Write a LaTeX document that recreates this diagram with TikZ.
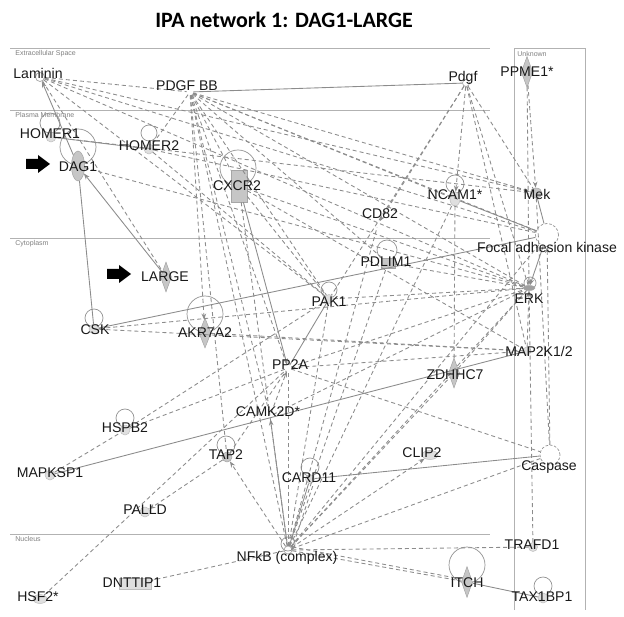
\documentclass[tikz,border=0pt]{standalone}
\usepackage{fontspec}
\setmainfont{Liberation Sans}
\newfontfamily\titulofont{Carlito}
\usetikzlibrary{shapes.geometric, arrows.meta}

\begin{document}
\begin{tikzpicture}[x=0.02cm, y=-0.02cm,
	gene/.style={font=\fontsize{8}{9}\selectfont, text=black!90, inner sep=0pt},
	comp/.style={font=\fontsize{4}{5}\selectfont, text=gray, anchor=west, inner sep=0pt},
	linha/.style={draw=gray!60, line width=0.5pt},
	forma/.style={fill=gray!45, draw=gray!70, line width=0.3pt, inner sep=0pt},
	clara/.style={forma, fill=gray!25, draw=gray!50},
	oculto/.style={circle, inner sep=0pt, minimum size=1.2mm},
	grupo/.style={circle, draw=gray!85, dash pattern=on 1.5pt off 1pt, inner sep=0pt},
	laco/.style={draw=gray!85, line width=0.4pt},
	lig/.style={draw=gray!90, line width=0.5pt},
	trac/.style={lig, dash pattern=on 2.3pt off 1.7pt},
	seta/.style={-{Stealth[length=3.5pt, width=2.6pt]}}]

\useasboundingbox (0,0) rectangle (624,617);

\node[font=\titulofont\bfseries\fontsize{12.5}{14}\selectfont] (titulo) at (284,20) {IPA network 1: DAG1-LARGE};

% Compartimentos
	\foreach \y in {48, 110, 238, 534}
		\draw[linha] (10,\y) -- (490,\y);
	\draw[linha] (514,610) -- (514,48) -- (585,48) -- (585,610);

	\node[comp] (extra) at (15,54) {Extracellular Space};
	\node[comp] (plasma) at (15,115) {Plasma Membrane};
	\node[comp] (cito) at (15,244) {Cytoplasm};
	\node[comp] (nucleo) at (15,539) {Nucleus};
	\node[comp] (desconh) at (517,54) {Unknown};

% Lacos
	\foreach \x/\y/\r in {50/123/10, 78/147/18, 149/133/8, 238/168/18, 455/184/9, 387/250/10, 94/318/9, 205/314/18,
			329/290/8, 125/418/9, 226/445/9, 310/467/9, 467/565/18, 543/586/9, 288/544/7, 530/283/6}
		\draw[laco] (\x,\y) circle (\r);

% Formas
\node[oculto, draw=gray!70, minimum size=1.8mm] (laminin) at (40,77) {};
\node[oculto] (pdgfbb) at (190,92) {};
\node[oculto, draw=gray!70, minimum size=1.4mm] (pdgf) at (466,83) {};
\node[forma, diamond, minimum width=2.3mm, minimum height=6.2mm] (ppme1) at (527,72) {};
\node[clara, circle, minimum size=2mm] (homer1) at (51,137) {};
\node[forma, ellipse, minimum width=2.6mm, minimum height=6mm] (dag1) at (78,166) {};
\node[clara, circle, minimum size=2mm] (homer2) at (149,149) {};
\node[forma, rectangle, minimum width=3.2mm, minimum height=6.4mm] (cxcr2) at (239,186) {};
\node[oculto] (cd82) at (378,224) {};
\node[clara, ellipse, minimum width=2mm, minimum height=2.8mm] (ncam1) at (455,199) {};
\node[forma, ellipse, minimum width=2.4mm, minimum height=2mm] (mek) at (536,193) {};
\node[grupo, minimum size=4.6mm] (fak) at (547,235) {};
\node[forma, rectangle, minimum width=2.8mm, minimum height=2mm] (pdlim1) at (388,263) {};
\node[forma, diamond, minimum width=2.2mm, minimum height=6mm] (large) at (166,277) {};
\node[clara, circle, minimum size=2mm] (csk) at (94,329) {};
\node[forma, diamond, minimum width=2.4mm, minimum height=6mm] (akr7a2) at (205,333) {};
\node[clara, circle, minimum size=1.8mm] (pak1) at (329,299) {};
\node[forma, ellipse, fill=gray!75, minimum width=2.4mm, minimum height=1mm] (erk) at (529,288) {};
\node[clara, circle, minimum size=1.6mm] (map2k) at (527,351) {};
\node[oculto] (pp2a) at (288,368) {};
\node[forma, diamond, minimum width=2.2mm, minimum height=6mm] (zdhhc7) at (454,373) {};
\node[oculto] (camk2d) at (270,416) {};
\node[clara, circle, minimum size=2mm] (hspb2) at (125,430) {};
\node[clara, circle, minimum size=2mm] (mapksp1) at (50,475) {};
\node[forma, circle, minimum size=2mm] (tap2) at (227,457) {};
\node[clara, circle, minimum size=1.8mm] (card11) at (310,479) {};
\node[clara, ellipse, minimum width=3.2mm, minimum height=1.8mm] (clip2) at (430,455) {};
\node[grupo, minimum size=4mm] (caspase) at (550,455) {};
\node[clara, circle, minimum size=2mm] (palld) at (145,512) {};
\node[oculto, draw=gray!70, minimum size=1.6mm] (nfkb) at (288,550) {};
\node[clara, circle, minimum size=1.8mm] (trafd1) at (533,547) {};
\node[clara, rectangle, minimum width=6.4mm, minimum height=2.2mm] (dnttip1) at (135,584) {};
\node[clara, ellipse, minimum width=2.8mm, minimum height=1.8mm] (hsf2) at (40,599) {};
\node[forma, diamond, minimum width=2.2mm, minimum height=6.2mm] (itch) at (467,582) {};
\node[clara, circle, minimum size=2mm] (tax1bp1) at (543,598) {};

% Ligacoes diretas
	\foreach \a/\b in {pdgfbb/pdgf, dag1/csk, homer1/homer2, csk/fak, pak1/pp2a, mapksp1/map2k,
			card11/caspase, itch/tax1bp1, nfkb/card11, ncam1/fak, mek/fak}
		\draw[lig] (\a) -- (\b);
	\foreach \a/\b in {dag1/laminin, large/dag1, cxcr2/pp2a, nfkb/camk2d, fak/erk}
		\draw[lig, seta] (\a) -- (\b);

% Ligacoes indiretas
	\foreach \a/\b in {laminin/pdgfbb, laminin/fak, laminin/erk, laminin/pak1, laminin/large,
			pdgfbb/homer2, pdgfbb/cxcr2, pdgfbb/pp2a, pdgfbb/camk2d, pdgfbb/nfkb, pdgfbb/pak1,
			pdgfbb/pdlim1, pdgfbb/ncam1, pdgfbb/mek, pdgfbb/fak, pdgfbb/erk, pdgfbb/tap2,
			pdgf/pak1, pdgf/mek, pdgf/erk, pdgf/map2k, homer1/mek, homer2/fak, homer2/pak1,
			dag1/erk, cxcr2/pak1, cxcr2/erk, cxcr2/map2k, cxcr2/nfkb, csk/erk, csk/map2k,
			akr7a2/map2k, pak1/erk, pdlim1/erk, pp2a/erk, pp2a/map2k, pp2a/caspase, camk2d/erk,
			zdhhc7/erk, ncam1/zdhhc7, hspb2/pak1, hspb2/pp2a, mapksp1/hspb2, hsf2/pp2a, tap2/pp2a,
			mek/caspase, nfkb/dnttip1, nfkb/trafd1, nfkb/itch, nfkb/caspase, nfkb/zdhhc7,
			nfkb/pak1, nfkb/cd82, nfkb/pdlim1, nfkb/ncam1, nfkb/fak, nfkb/erk, nfkb/pp2a}
		\draw[trac] (\a) -- (\b);
	\foreach \a/\b in {laminin/mek, pdgfbb/akr7a2, pdgf/ncam1, pdgf/cd82, ppme1/mek, ppme1/erk,
			caspase/fak, map2k/erk, trafd1/erk, nfkb/tap2, nfkb/clip2, camk2d/pp2a, tap2/palld}
		\draw[trac, seta] (\a) -- (\b);

	\draw[trac] ([xshift=0.7mm]nfkb.center) -- ([xshift=0.7mm]card11.south);
	\draw[trac] ([yshift=0.6mm]nfkb.east) -- ([yshift=0.6mm]itch.west);

% Setas de destaque
	\foreach \ax/\ay in {26/164, 107/274}
		\fill[black] (\ax,\ay-5) -- (\ax+12,\ay-5) -- (\ax+12,\ay-9) -- (\ax+24,\ay)
			-- (\ax+12,\ay+9) -- (\ax+12,\ay+5) -- (\ax,\ay+5) -- cycle;

% Rotulos
	\foreach \x/\y/\t [count=\i] in {38/73/Laminin, 187/86/PDGF BB, 463/78/Pdgf, 527/72/PPME1*,
			50/134/HOMER1, 78/167/DAG1, 149/146/HOMER2, 237/186/CXCR2, 455/195/NCAM1*, 537/194/Mek,
			380/214/CD82, 547/247/Focal adhesion kinase, 386/262/PDLIM1, 165/277/LARGE, 95/330/CSK,
			205/333/AKR7A2, 329/302/PAK1, 529/299/ERK, 290/365/PP2A, 455/375/ZDHHC7,
			268/412/CAMK2D*, 125/428/HSPB2, 50/473/MAPKSP1, 226/455/TAP2, 309/478/CARD11,
			422/453/CLIP2, 549/467/Caspase, 145/510/PALLD, 287/558/NFkB (complex), 532/545/TRAFD1,
			132/583/DNTTIP1, 38/597/HSF2*, 467/583/ITCH, 542/597/TAX1BP1}
		\node[gene] (rot\i) at (\x,\y) {\t};
	\node[gene] (rotmap) at (539,351) {MAP2K1/2};
\end{tikzpicture}
\end{document}
